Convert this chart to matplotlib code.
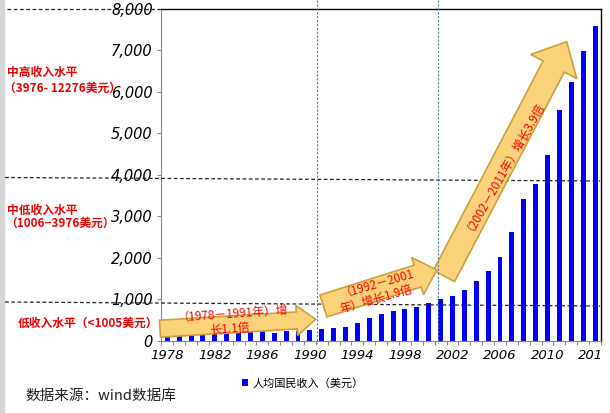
import numpy as np
import matplotlib.pyplot as plt
from matplotlib.patches import FancyArrow, Rectangle
from matplotlib.lines import Line2D
from matplotlib.transforms import IdentityTransform, Bbox

plt.rcParams['font.family'] = ['Noto Sans CJK SC', 'DejaVu Sans']

# data
years = np.arange(1978, 2015)
gni = [160, 175, 190, 185, 185, 195, 215, 240, 224, 185,
       241, 241, 262, 290, 313, 340, 437, 557, 650, 720,
       768, 816, 905, 1005, 1077, 1222, 1439, 1684, 2017, 2623,
       3414, 3776, 4475, 5559, 6241, 6981, 7590]
label_years = list(range(1978, 2015, 4))
y_ticks = list(range(0, 8001, 1000))
legend_label = '人均国民收入（美元）'
source_text = '数据来源：wind数据库'
levels = [('中高收入水平', '（3976- 12276美元）'),
          ('中低收入水平', '（1006−3976美元）'),
          ('低收入水平（<1005美元）', None)]
arrow_texts = [('（1978－1991年）增', '长1.1倍'),
               ('（1992－2001', '年）增长1.9倍'),
               ('（2002－2011年）增长3.9倍',)]

W, H = 610, 413
fig = plt.figure(figsize=(W / 100, H / 100), dpi=100)
ax = fig.add_axes([161 / W, 1 - 340.7 / H, 440 / W, 331.7 / H])

ax.bar(years, gni, width=0.42, color='#0000ff', label=legend_label, zorder=2)
ax.set_xlim(1977.47, 2014.45)
ax.set_ylim(0, 8000)

ax.set_yticks(y_ticks)
ax.set_yticklabels([f'{v:,}' for v in y_ticks], fontsize=10.5,
                   family='DejaVu Sans', style='oblique')
ax.set_xticks(label_years)
ax.set_xticklabels([str(y) for y in label_years], fontsize=9.5,
                   family='DejaVu Sans', style='oblique')
ax.set_xticks(np.arange(1977.5, 2015, 1), minor=True)
ax.tick_params(axis='x', which='major', length=0, pad=6)
ax.tick_params(axis='x', which='minor', length=3, color='#888888', width=0.8)
ax.tick_params(axis='y', length=3, color='#888888', pad=3)

for s in ['left', 'bottom']:
    ax.spines[s].set_color('#888888')
for s in ['top', 'right']:
    ax.spines[s].set_color('black')
    ax.spines[s].set_linewidth(1.0)

# cut the last year label at the plot edge
clip = Bbox.from_extents(0, 0, 601, H)
for lab in ax.get_xticklabels():
    lab.set_clip_on(True)
    lab.set_clip_box(clip)


def fx(x):
    return x / W


def fy(y):
    return 1 - y / H


# income level dashed lines (slightly tilted, hand drawn)
dash = dict(color='#222222', lw=0.9, linestyle=(0, (3, 2)), transform=fig.transFigure)
fig.add_artist(Line2D([fx(7), fx(160)], [fy(9), fy(9)], **dash))
fig.add_artist(Line2D([fx(5), fx(600)], [fy(177.5), fy(181)], **dash))
fig.add_artist(Line2D([fx(5), fx(600)], [fy(302), fy(306)], **dash))

# period separators
dot = dict(color='#4f7fa8', lw=0.8, linestyle=(0, (2, 1.5)), transform=fig.transFigure, zorder=5)
fig.add_artist(Line2D([fx(317), fx(317)], [fy(0), fy(343)], **dot))
fig.add_artist(Line2D([fx(438.3), fx(438.3)], [fy(0), fy(343)], **dot))

# yellow arrows (pixel coords, y from top)
arrow_style = dict(fc='#f9d27a', ec='#c9a23c', lw=1.2, length_includes_head=True,
                   transform=IdentityTransform(), zorder=3)
arrows = [((444, 276), (566.7, 41.7), 24, 52, 28),
          ((323.4, 306), (436.7, 270), 23, 39, 20),
          ((160, 328.7), (315.7, 319.3), 17, 30, 19)]
for (x0, y0), (x1, y1), w, hw, hl in arrows:
    fig.add_artist(FancyArrow(x0, H - y0, x1 - x0, -(y1 - y0), width=w,
                              head_width=hw, head_length=hl, **arrow_style))

txt = dict(color='red', fontsize=8.5, ha='center', va='center', zorder=4)
fig.text(fx(233), fy(313), arrow_texts[0][0], rotation=4, **txt)
fig.text(fx(230), fy(329), arrow_texts[0][1], rotation=4, **txt)
fig.text(fx(377), fy(282), arrow_texts[1][0], rotation=16, **txt)
fig.text(fx(376), fy(299), arrow_texts[1][1], rotation=16, **txt)
fig.text(fx(501), fy(164), arrow_texts[2][0], rotation=60.5, **txt)

# income level labels
red = dict(color='#ee0000', fontsize=8.5, fontweight='bold', va='center')
fig.text(fx(7), fy(72), levels[0][0], **red)
fig.text(fx(4), fy(88), levels[0][1], **red)
fig.text(fx(7), fy(210), levels[1][0], **red)
fig.text(fx(5), fy(223), levels[1][1], **red)
fig.text(fx(18), fy(323), levels[2][0], **red)

# left slide border
fig.add_artist(Rectangle((0, 0), fx(4), 1, transform=fig.transFigure,
                         color='#d6d6d6', zorder=0))

ax.legend(loc='center left', bbox_to_anchor=(fx(236), fy(383)),
          bbox_transform=fig.transFigure, frameon=False, fontsize=8,
          handlelength=0.6, handleheight=0.6, handletextpad=0.4, borderpad=0)
fig.text(fx(25), fy(396), source_text, fontsize=10.5, va='center', color='#222222')

fig.savefig('out.png', dpi=100)
